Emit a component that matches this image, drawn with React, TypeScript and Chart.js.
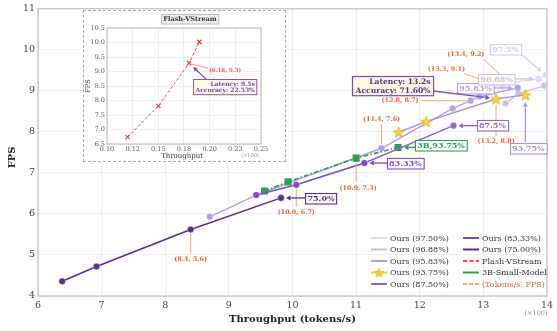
import React, { useEffect, useRef } from "react";
import { Chart, registerables } from "chart.js";
Chart.register(...registerables);

const SERIF = "'DejaVu Serif', serif";

// ---------- main chart data: [throughput (x100 tokens/s), FPS] ----------
const ours9750: number[][] = [[13.3, 9.1], [13.4, 9.2], [13.87, 9.29], [13.98, 9.39]];
const ours9688: number[][] = [[13.35, 8.69], [13.55, 8.93], [13.96, 9.12]];
const ours9583: number[][] = [[8.7, 5.93], [9.43, 6.46], [11.4, 7.6], [12.52, 8.57], [12.8, 8.76], [12.94, 8.86], [13.54, 9.07]];
const ours9375: number[][] = [[11.67, 7.99], [12.1, 8.25], [13.2, 8.8], [13.66, 8.9]];
const ours8750: number[][] = [[11.13, 7.24], [12.53, 8.15]];
const ours8333: number[][] = [[9.43, 6.46], [10.06, 6.71], [11.13, 7.24]];
const ours7500: number[][] = [[6.38, 4.36], [6.92, 4.72], [8.4, 5.62], [9.82, 6.39]];
const small3B: number[][] = [[9.56, 6.56], [9.93, 6.78], [11.0, 7.36], [11.66, 7.62]];

const xRange = [6, 14];
const yRange = [4, 11];

// coordinate call-outs (text, data point)
const coordTexts = ["(8.4, 5.6)", "(10.0, 6.7)", "(10.9, 7.3)", "(11.4, 7.6)", "(12.8, 8.7)", "(13.2, 8.8)", "(13.3, 9.1)", "(13.4, 9.2)"];
const coordPoints: number[][] = [[8.4, 5.62], [10.06, 6.71], [11.0, 7.36], [11.4, 7.6], [12.8, 8.76], [13.2, 8.8], [13.3, 9.1], [13.4, 9.2]];
// series tags (text, data point)
const tagTexts = ["75.0%", "83.33%", "87.5%", "93.75%", "95.83%", "96.88%", "97.5%", "3B,93.75%"];
const tagPoints: number[][] = [[9.82, 6.39], [11.13, 7.24], [12.53, 8.15], [13.66, 8.9], [13.54, 9.07], [13.87, 9.29], [13.98, 9.39], [11.66, 7.62]];
const latencyText = ["Latency: 13.2s", "Accuracy: 71.60%"];
const latencyPoint = [13.2, 8.8];

// ---------- inset data ----------
const flashX = [0.12, 0.15, 0.18, 0.19];
const flashY = [6.74, 7.81, 9.29, 10.02];
const insetXTickValues = [0.1, 0.125, 0.15, 0.175, 0.2, 0.225, 0.25];
const insetXTickLabels = ["0.10", "0.12", "0.15", "0.18", "0.20", "0.23", "0.25"];
const insetYRange = [6.5, 10.5];
const insetCoordText = "(0.18, 9.3)";
const insetPoint = [0.18, 9.29];
const insetLatencyText = ["Latency: 9.5s", "Accuracy: 22.53%"];

// ---------- styles ----------
const C = {
  p9750: "#e2d7f6",
  p9688: "#cdbdf0",
  p9583: "#b49de6",
  p9375: "#a990e0",
  p8750: "#8e66d2",
  p8333: "#7a4cc2",
  p7500: "#5a2d8c",
  green: "#2e9e57",
  red: "#e5483f",
  orange: "#f06a35",
  orangeLine: "#f7a584",
  star: "#f8d444",
  starEdge: "#e0ac14",
};
const tagColors = [C.p7500, C.p8333, C.p8750, C.p9375, C.p9583, C.p9688, "#d6c9f3", C.green];
// layout offsets (pixels relative to the point)
const coordLayout = [
  { t: [0, 30], a: "center", l: [0, 4, 0, 24] },
  { t: [0, 28], a: "center", l: [0, 4, 0, 22] },
  { t: [2, 30], a: "center", l: [0, 5, 0, 24] },
  { t: [0, -29], a: "center", l: [0, -4, 0, -24] },
  { t: [-52, 0], a: "right", l: [-49, 0, -4, 0] },
  { t: [0, 42], a: "center", l: [0, 6, 0, 37] },
  { t: [-56, -17], a: "center", l: [-38, -13, -4, -1] },
  { t: [-43, -28], a: "center", l: [-25, -23, -3, -3] },
];
const tagLayout = [
  { b: [40, 0], l: [25, 0, 5, 0] },
  { b: [41, 0], l: [24, 0, 5, 0] },
  { b: [39, 0], l: [25, 0, 5, 0] },
  { b: [3, 53], l: [0, 47, 0, 7] },
  { b: [-42, 0], l: [-25, 0, -5, 0] },
  { b: [-42, 0], l: [-25, 0, -5, 0] },
  { b: [-40, -26], l: [-25, -21, -4, -3] },
  { b: [43, -2], l: [18, 0, 6, 0] },
];

function makeStar(size: number) {
  const c = document.createElement("canvas");
  c.width = size;
  c.height = size;
  const g = c.getContext("2d")!;
  const cx = size / 2, cy = size / 2 + 0.5, R = size / 2 - 0.8, r = R * 0.42;
  g.beginPath();
  for (let i = 0; i < 10; i++) {
    const rad = i % 2 === 0 ? R : r;
    const ang = -Math.PI / 2 + (i * Math.PI) / 5;
    const px = cx + rad * Math.cos(ang), py = cy + rad * Math.sin(ang);
    if (i === 0) g.moveTo(px, py); else g.lineTo(px, py);
  }
  g.closePath();
  g.fillStyle = C.star;
  g.fill();
  g.strokeStyle = C.starEdge;
  g.lineWidth = 0.8;
  g.stroke();
  return c;
}

function arrow(ctx: CanvasRenderingContext2D, x1: number, y1: number, x2: number, y2: number, color: string, lw = 1.2, head = 4.5) {
  ctx.save();
  ctx.strokeStyle = color;
  ctx.fillStyle = color;
  ctx.lineWidth = lw;
  const ang = Math.atan2(y2 - y1, x2 - x1);
  const bx = x2 - head * Math.cos(ang), by = y2 - head * Math.sin(ang);
  ctx.beginPath();
  ctx.moveTo(x1, y1);
  ctx.lineTo(bx, by);
  ctx.stroke();
  ctx.beginPath();
  ctx.moveTo(x2, y2);
  ctx.lineTo(bx + head * 0.55 * Math.sin(ang), by - head * 0.55 * Math.cos(ang));
  ctx.lineTo(bx - head * 0.55 * Math.sin(ang), by + head * 0.55 * Math.cos(ang));
  ctx.closePath();
  ctx.fill();
  ctx.restore();
}

function line(ctx: CanvasRenderingContext2D, x1: number, y1: number, x2: number, y2: number, color: string, lw = 1, dash: number[] = []) {
  ctx.save();
  ctx.strokeStyle = color;
  ctx.lineWidth = lw;
  ctx.setLineDash(dash);
  ctx.beginPath();
  ctx.moveTo(x1, y1);
  ctx.lineTo(x2, y2);
  ctx.stroke();
  ctx.restore();
}

function textBox(ctx: CanvasRenderingContext2D, cx: number, cy: number, lines: string[], o: { size: number; color: string; border: string; fill: string; padX: number; padY: number; lh: number; align?: string; lw?: number }) {
  ctx.save();
  ctx.font = `bold ${o.size}px ${SERIF}`;
  const w = Math.max(...lines.map((s) => ctx.measureText(s).width)) + o.padX * 2;
  const h = lines.length * o.lh + o.padY * 2;
  const x = Math.round(cx - w / 2) + 0.5, y = Math.round(cy - h / 2) + 0.5;
  ctx.fillStyle = o.fill;
  ctx.fillRect(x, y, w, h);
  ctx.strokeStyle = o.border;
  ctx.lineWidth = o.lw ?? 1;
  ctx.strokeRect(x, y, w, h);
  ctx.fillStyle = o.color;
  ctx.textBaseline = "middle";
  const right = o.align === "right";
  ctx.textAlign = right ? "right" : "center";
  lines.forEach((s, i) => {
    ctx.fillText(s, right ? x + w - o.padX : cx, y + o.padY + o.lh * (i + 0.5) + 0.5);
  });
  ctx.restore();
  return { x, y, w, h };
}

function txt(ctx: CanvasRenderingContext2D, s: string, x: number, y: number, font: string, color: string, align: CanvasTextAlign = "center", rot = 0) {
  ctx.save();
  ctx.font = font;
  ctx.fillStyle = color;
  ctx.textAlign = align;
  ctx.textBaseline = "middle";
  ctx.translate(x, y);
  if (rot) ctx.rotate(rot);
  ctx.fillText(s, 0, 0);
  ctx.restore();
}

const toXY = (pts: number[][]) => pts.map(([x, y]) => ({ x, y }));

function lineSet(label: string, pts: number[][], color: string, extra: any = {}) {
  return {
    label,
    data: toXY(pts),
    showLine: true,
    borderColor: color,
    backgroundColor: color,
    borderWidth: 1.5,
    pointRadius: 3.3,
    pointBackgroundColor: color,
    pointBorderColor: "rgba(255,255,255,0.6)",
    pointBorderWidth: 0.6,
    tension: 0,
    ...extra,
  };
}

export default function App() {
  const mainRef = useRef<HTMLCanvasElement>(null);
  const insetRef = useRef<HTMLCanvasElement>(null);

  useEffect(() => {
    const star = makeStar(13);
    const starSmall = makeStar(11);

    const legendItems = [
      { label: "Ours (97.50%)", color: C.p9750 },
      { label: "Ours (96.88%)", color: C.p9688 },
      { label: "Ours (95.83%)", color: C.p9583 },
      { label: "Ours (93.75%)", color: C.star, star: true },
      { label: "Ours (87.50%)", color: C.p8750 },
      { label: "Ours (83.33%)", color: C.p8333 },
      { label: "Ours (75.00%)", color: C.p7500 },
      { label: "Flash-VStream", color: C.red, dash: [4, 2.5] },
      { label: "3B-Small-Model", color: C.green },
      { label: "(Tokens/s, FPS)", color: C.orangeLine, dash: [4, 2], textColor: C.orange },
    ];

    const mainPlugin = {
      id: "mainDecor",
      beforeDatasetsDraw(chart: any) {
        const { ctx, chartArea: a } = chart;
        ctx.save();
        ctx.strokeStyle = "#cacaca";
        ctx.lineWidth = 1.5;
        ctx.strokeRect(a.left, a.top, a.right - a.left, a.bottom - a.top);
        ctx.restore();
      },
      afterDatasetsDraw(chart: any) {
        const { ctx, chartArea: a, scales } = chart;
        const px = (v: number[]) => [scales.x.getPixelForValue(v[0]), scales.y.getPixelForValue(v[1])];

        // axis titles
        txt(ctx, "Throughput (tokens/s)", (a.left + a.right) / 2, 319, `bold 10px ${SERIF}`, "#222");
        txt(ctx, "FPS", 12, (a.top + a.bottom) / 2 + 5, `bold 10px ${SERIF}`, "#222", "center", -Math.PI / 2);
        txt(ctx, "(\u00d7100)", 536, 313, `6.5px ${SERIF}`, "#8a8a8a");

        // coordinate call-outs
        coordPoints.forEach((p, i) => {
          const [x, y] = px(p);
          const L = coordLayout[i];
          line(ctx, x + L.l[0], y + L.l[1], x + L.l[2], y + L.l[3], C.orangeLine, 1);
          txt(ctx, coordTexts[i], x + L.t[0], y + L.t[1], `bold 6.4px ${SERIF}`, C.orange, L.a as CanvasTextAlign);
        });

        // series tags
        tagPoints.forEach((p, i) => {
          const [x, y] = px(p);
          const L = tagLayout[i];
          const col = tagColors[i];
          arrow(ctx, x + L.l[0], y + L.l[1], x + L.l[2], y + L.l[3], col, 1.3, 4.5);
          textBox(ctx, x + L.b[0], y + L.b[1], [tagTexts[i]], { size: 8, color: col, border: col, fill: "rgba(255,255,255,0.92)", padX: 2, padY: 1, lh: 8.5, lw: 1.1 });
        });

        // latency box
        {
          const [x, y] = px(latencyPoint);
          arrow(ctx, x - 63, y - 8, x - 6, y - 1, C.p8333, 1.3, 4.5);
          textBox(ctx, x - 104, y - 13.5, latencyText, { size: 7.6, color: "#5b2c8f", border: C.p8333, fill: "#fffbe3", padX: 3, padY: 1, lh: 8.6, align: "right", lw: 1.2 });
        }

        // legend
        const rowsY = [238, 249.5, 261, 272.5, 284];
        legendItems.forEach((it: any, i) => {
          const col = i < 5 ? 0 : 1;
          const row = i % 5;
          const x0 = col === 0 ? 371 : 463;
          const y = rowsY[row];
          line(ctx, x0, y, x0 + 16, y, it.color, 2, it.dash || []);
          if (it.star) ctx.drawImage(starSmall, x0 + 8 - 5.5, y - 5.5);
          txt(ctx, it.label, x0 + 19, y + 0.5, `8px ${SERIF}`, it.textColor || "#333", "left");
        });
      },
    };

    const main = new Chart(mainRef.current!, {
      type: "scatter",
      data: {
        datasets: [
          lineSet("Ours (75.00%)", ours7500, C.p7500),
          lineSet("Ours (83.33%)", ours8333, C.p8333),
          lineSet("Ours (87.50%)", ours8750, C.p8750),
          lineSet("3B-Small-Model", small3B, C.green, { borderDash: [5, 2, 1.5, 2], pointStyle: "rect", pointRadius: 5, pointBorderWidth: 0, borderWidth: 1.6 }),
          lineSet("Ours (93.75%)", ours9375, C.p9375, { pointStyle: star, pointRadius: 6, borderWidth: 1.4 }),
          lineSet("Ours (95.83%)", ours9583, C.p9583, { borderWidth: 1.4 }),
          lineSet("Ours (96.88%)", ours9688, C.p9688, { borderWidth: 1.3 }),
          lineSet("Ours (97.50%)", ours9750, C.p9750, { borderWidth: 1.3 }),
        ],
      },
      options: {
        animation: false,
        responsive: false,
        devicePixelRatio: 1,
        layout: { padding: { top: 6, right: 8, left: 0, bottom: 0 } },
        plugins: { legend: { display: false }, tooltip: { enabled: false } },
        scales: {
          x: {
            type: "linear",
            min: xRange[0],
            max: xRange[1],
            ticks: { stepSize: 1, font: { family: SERIF, size: 9.5 }, color: "#444", padding: 4 },
            grid: { color: "#efefef", drawTicks: false },
            border: { display: false },
            afterFit: (s: any) => { s.height = 35; },
          },
          y: {
            type: "linear",
            min: yRange[0],
            max: yRange[1],
            ticks: { stepSize: 1, font: { family: SERIF, size: 9.5 }, color: "#444", padding: 3 },
            grid: { color: "#efefef", drawTicks: false },
            border: { display: false },
            afterFit: (s: any) => { s.width = 38; },
          },
        },
      },
      plugins: [mainPlugin],
    } as any);

    const insetPlugin = {
      id: "insetDecor",
      beforeDatasetsDraw(chart: any) {
        const { ctx, chartArea: a } = chart;
        ctx.save();
        ctx.strokeStyle = "#c4c4c4";
        ctx.lineWidth = 1.2;
        ctx.strokeRect(a.left, a.top, a.right - a.left, a.bottom - a.top);
        ctx.restore();
      },
      afterDatasetsDraw(chart: any) {
        const { ctx, chartArea: a, scales } = chart;
        textBox(ctx, (a.left + a.right) / 2 + 6, 8, ["Flash-VStream"], { size: 6.5, color: "#333", border: "#bdbdbd", fill: "#ececec", padX: 2, padY: 1, lh: 7.5, lw: 1 });
        txt(ctx, "FPS", 4, (a.top + a.bottom) / 2, `6.5px ${SERIF}`, "#333", "center", -Math.PI / 2);
        txt(ctx, "Throughput", (a.left + a.right) / 2 - 2, 145, `7px ${SERIF}`, "#333");
        txt(ctx, "(\u00d7100)", 166, 145, `5px ${SERIF}`, "#8a8a8a");
        const x = scales.x.getPixelForValue(insetPoint[0]);
        const y = scales.y.getPixelForValue(insetPoint[1]);
        line(ctx, x + 3, y + 1, x + 19, y + 5, C.orangeLine, 1);
        txt(ctx, insetCoordText, x + 20, y + 7, `bold 5.5px ${SERIF}`, C.orange, "left");
        arrow(ctx, x + 17, y + 16, x + 4, y + 4, "#7a3fc0", 1.2, 4);
        textBox(ctx, x + 36, y + 23.5, insetLatencyText, { size: 6, color: "#7a3fc0", border: "#8a52c8", fill: "#fffbe3", padX: 2, padY: 1, lh: 6.6, align: "right", lw: 1 });
      },
    };

    const inset = new Chart(insetRef.current!, {
      type: "scatter",
      data: {
        datasets: [
          {
            label: "Flash-VStream",
            data: flashX.map((x, i) => ({ x, y: flashY[i] })),
            showLine: true,
            borderColor: C.red,
            borderWidth: 1,
            borderDash: [3, 2],
            pointStyle: "crossRot",
            pointRadius: 3,
            pointBorderColor: C.red,
            pointBorderWidth: 1.2,
          },
        ],
      },
      options: {
        animation: false,
        responsive: false,
        devicePixelRatio: 1,
        layout: { padding: { top: 17, right: 24, left: 0, bottom: 0 } },
        plugins: { legend: { display: false }, tooltip: { enabled: false } },
        scales: {
          x: {
            type: "linear",
            min: insetXTickValues[0],
            max: insetXTickValues[insetXTickValues.length - 1],
            afterBuildTicks: (s: any) => { s.ticks = insetXTickValues.map((v) => ({ value: v })); },
            ticks: { font: { family: SERIF, size: 6.5 }, color: "#555", padding: 1, autoSkip: false, maxRotation: 0, callback: (_v: any, i: number) => insetXTickLabels[i] },
            grid: { color: "#eeeeee", drawTicks: false },
            border: { display: false },
            afterFit: (s: any) => { s.height = 17; },
          },
          y: {
            type: "linear",
            min: insetYRange[0],
            max: insetYRange[1],
            ticks: { stepSize: 0.5, font: { family: SERIF, size: 6.5 }, color: "#555", padding: 2, callback: (v: any) => Number(v).toFixed(1) },
            grid: { color: "#eeeeee", drawTicks: false },
            border: { display: false },
            afterFit: (s: any) => { s.width = 23; },
          },
        },
      },
      plugins: [insetPlugin],
    } as any);

    return () => {
      main.destroy();
      inset.destroy();
    };
  }, []);

  return (
    <div style={{ position: "absolute", left: 0, top: 0, width: 557, height: 331, background: "#fff" }}>
      <canvas ref={mainRef} width={557} height={331} style={{ position: "absolute", left: 0, top: 0, width: 557, height: 331 }} />
      <div style={{ position: "absolute", left: 83, top: 10, width: 203, height: 152, boxSizing: "border-box", border: "1px dashed #a8a8a8", background: "#fff" }}>
        <canvas ref={insetRef} width={201} height={150} style={{ display: "block", width: 201, height: 150 }} />
      </div>
    </div>
  );
}
